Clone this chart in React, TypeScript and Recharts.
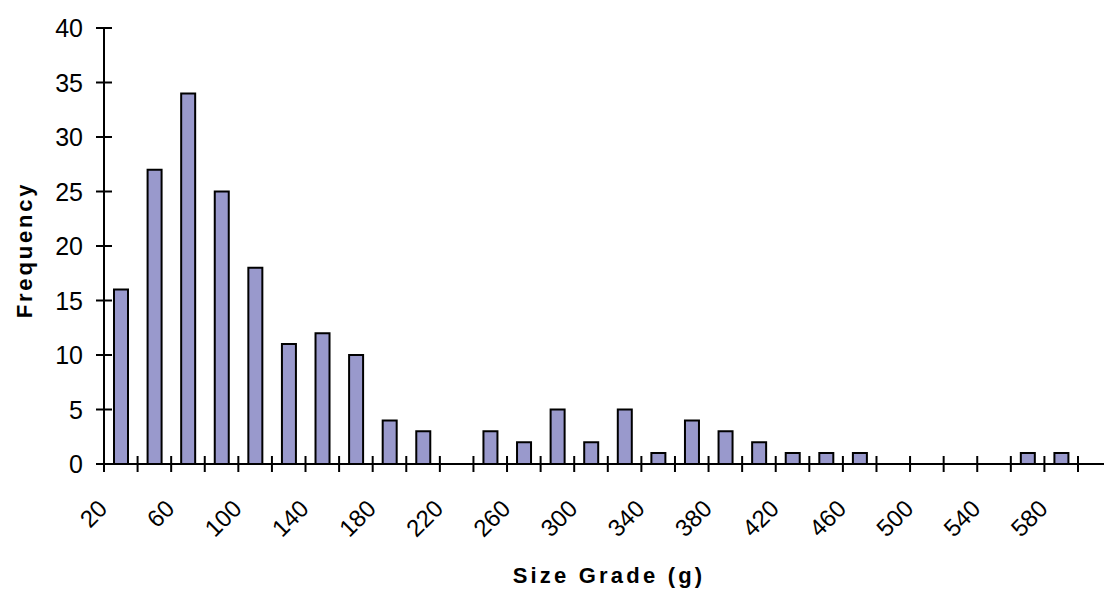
import { BarChart, Bar, XAxis, YAxis } from "recharts";

const sizeGrades = [
  20, 40, 60, 80, 100, 120, 140, 160, 180, 200, 220, 240, 260, 280, 300,
  320, 340, 360, 380, 400, 420, 440, 460, 480, 500, 520, 540, 560, 580,
];
const frequency = [
  16, 27, 34, 25, 18, 11, 12, 10, 4, 3, 0, 3, 2, 5, 2,
  5, 1, 4, 3, 2, 1, 1, 1, 0, 0, 0, 0, 1, 1,
];
const yTicks = [0, 5, 10, 15, 20, 25, 30, 35, 40];

const data = sizeGrades.map((g, i) => ({ grade: g, value: frequency[i] }));

const FONT = "'Liberation Sans', Arial, sans-serif";

function YTick(props: any) {
  const { x, y, payload } = props;
  return (
    <g>
      <line x1={x - 8} x2={x + 8} y1={y} y2={y} stroke="#000" strokeWidth={2} />
      <text x={x - 21} y={y} dy={9} textAnchor="end" fontSize={25} fontFamily={FONT} fill="#000">
        {payload.value}
      </text>
    </g>
  );
}

function XTick(props: any) {
  const { x, y, payload, index } = props;
  const band = 974 / sizeGrades.length;
  const left = x - band / 2;
  const isLast = index === sizeGrades.length - 1;
  const lx = x - 12;
  const ly = y + 46;
  return (
    <g>
      <line x1={left} x2={left} y1={y - 8} y2={y + 8} stroke="#000" strokeWidth={2} />
      {isLast && (
        <g>
          <line x1={x + band / 2} x2={x + band / 2} y1={y - 8} y2={y + 8} stroke="#000" strokeWidth={2} />
          <line x1={x + band / 2} x2={x + band / 2 + 30} y1={y} y2={y} stroke="#000" strokeWidth={2} />
        </g>
      )}
      {index % 2 === 0 && (
        <text
          x={lx}
          y={ly}
          textAnchor="end"
          fontSize={24}
          fontFamily={FONT}
          fill="#000"
          transform={`rotate(-45, ${lx}, ${ly})`}
        >
          {payload.value}
        </text>
      )}
    </g>
  );
}

export default function App() {
  return (
    <div style={{ position: "absolute", left: 0, top: 0, width: 1104, height: 590, background: "#fff" }}>
      <BarChart
        width={1104}
        height={590}
        data={data}
        margin={{ top: 28, right: 26, bottom: 0, left: 0 }}
      >
        <XAxis
          dataKey="grade"
          interval={0}
          tickLine={false}
          tickSize={0}
          tickMargin={0}
          height={126}
          axisLine={{ stroke: "#000", strokeWidth: 2 }}
          tick={<XTick />}
          label={{
            value: "Size Grade (g)",
            position: "insideBottom",
            offset: 7,
            dx: 18,
            fontSize: 22,
            fontWeight: "bold",
            fontFamily: FONT,
            fill: "#000",
            letterSpacing: 3.2,
          }}
        />
        <YAxis
          width={104}
          domain={[0, 40]}
          ticks={yTicks}
          interval={0}
          tickLine={false}
          tickSize={0}
          tickMargin={0}
          axisLine={{ stroke: "#000", strokeWidth: 2 }}
          tick={<YTick />}
          label={{
            value: "Frequency",
            angle: -90,
            position: "insideLeft",
            offset: 24,
            dy: 4,
            fontSize: 22,
            fontWeight: "bold",
            fontFamily: FONT,
            fill: "#000",
            letterSpacing: 2.8,
            style: { textAnchor: "middle" },
          }}
        />
        <Bar
          dataKey="value"
          fill="#9999cc"
          stroke="#000"
          strokeWidth={2}
          barSize={14}
          isAnimationActive={false}
        />
      </BarChart>
    </div>
  );
}
